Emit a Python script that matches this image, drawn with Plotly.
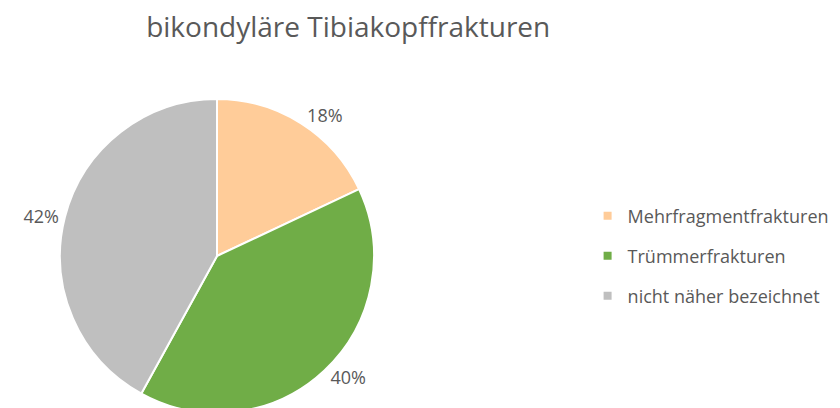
import plotly.graph_objects as go

title = "bikondyläre Tibiakopffrakturen"
categories = ["Mehrfragmentfrakturen", "Trümmerfrakturen", "nicht näher bezeichnet"]
values = [18, 40, 42]
colors = ["#FFCC99", "#70AD47", "#BFBFBF"]

TEXT = "#595959"
FONT = "Open Sans"

fig = go.Figure()
fig.add_trace(go.Pie(
    labels=categories,
    values=values,
    sort=False,
    direction="clockwise",
    rotation=0,
    marker=dict(colors=colors, line=dict(color="white", width=2)),
    textinfo="percent",
    texttemplate="%{percent:.0%}",
    textposition="outside",
    outsidetextfont=dict(family=FONT, size=18, color=TEXT),
    automargin=False,
    showlegend=False,
    domain=dict(x=[0.0619, 0.4357], y=[0.0074, 0.777]),
))

# legend entries (one per category)
for cat, col in zip(categories, colors):
    fig.add_trace(go.Scatter(
        x=[None], y=[None], mode="markers", name=cat, legendgroup=cat,
        marker=dict(symbol="square", size=8, color=col),
        hoverinfo="skip",
    ))

fig.update_layout(
    width=840, height=408,
    margin=dict(l=0, r=0, t=0, b=0),
    paper_bgcolor="white",
    plot_bgcolor="white",
    xaxis=dict(visible=False),
    yaxis=dict(visible=False),
    title=dict(text=title, x=0.405, xanchor="center", y=0.952, yanchor="middle",
               font=dict(family=FONT, size=28, color=TEXT)),
    legend=dict(x=0.690, xanchor="left", y=0.392, yanchor="middle",
                font=dict(family=FONT, size=18, color=TEXT),
                traceorder="grouped", tracegroupgap=13.6, itemwidth=30),
    showlegend=True,
)

fig.write_html("out.html")
